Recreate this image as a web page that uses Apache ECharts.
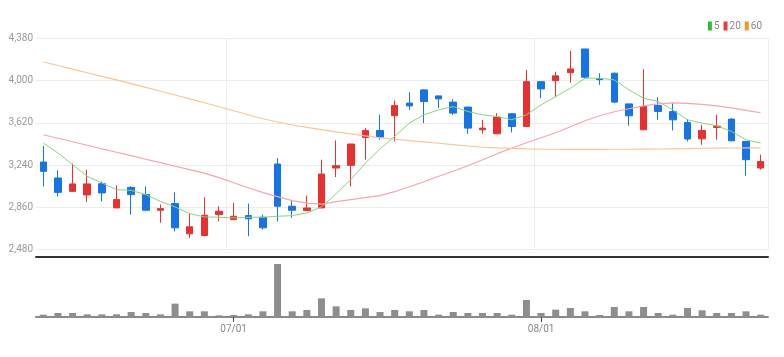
<!DOCTYPE html>
<html>
<head>
<meta charset="utf-8">
<script src="https://cdn.jsdelivr.net/npm/echarts@6/dist/echarts.min.js"></script>
<style>
html,body{margin:0;padding:0;background:#fff;}
#chart{width:784px;height:357px;}
</style>
</head>
<body>
<div id="chart"></div>
<script>
var dates = ['06/12','06/13','06/14','06/17','06/18','06/19','06/20','06/21','06/24','06/25','06/26','06/27','06/28',
'07/01','07/02','07/03','07/04','07/05','07/08','07/09','07/10','07/11','07/12','07/15','07/16','07/17','07/18','07/19','07/22','07/23','07/24','07/25','07/26','07/29',
'08/01','08/02','08/05','08/06','08/07','08/08','08/09','08/12','08/13','08/14','08/16','08/19','08/20','08/21','08/22','08/23'];
var tickLabels = ['07/01','08/01'];
var opens  = [3267,3123,3003,2971,3072,2854,3039,2974,2833,2893,2621,2606,2794,2749,2785,2770,3249,2869,2830,2854,3213,3237,3488,3551,3685,3797,3916,3862,3806,3761,3557,3521,3701,3587,3990,3999,4071,4284,4015,4066,3790,3557,3775,3721,3622,3476,3578,3653,3452,3213];
var closes = [3183,2994,3070,3070,2989,2929,2974,2833,2848,2675,2684,2788,2824,2779,2756,2675,2869,2833,2854,3159,3234,3429,3551,3491,3775,3772,3811,3835,3707,3572,3572,3671,3587,3990,3925,4042,4104,4030,4008,3806,3683,3766,3721,3647,3474,3551,3590,3458,3288,3272];
var lows   = [3048,2958,3003,2908,2913,2854,2794,2833,2720,2644,2585,2599,2734,2749,2599,2660,2734,2764,2824,2854,3132,3048,3288,3467,3452,3736,3617,3752,3692,3521,3521,3521,3533,3587,3841,3850,3981,4021,3961,3797,3593,3557,3647,3551,3452,3422,3467,3452,3144,3198];
var highs  = [3413,3192,3252,3198,3093,3057,3048,3048,2884,2994,2800,2949,2869,2899,2893,2794,3303,2920,2965,3288,3461,3429,3572,3692,3820,3895,3922,3862,3832,3761,3647,3707,3707,4095,3990,4080,4266,4284,4066,4071,3790,4102,3850,3797,3653,3602,3692,3662,3452,3333];
var ma5  = [3438,3348,3243,3138,3079,3018,3012,2974,2913,2863,2803,2773,2770,2764,2770,2770,2779,2785,2809,2863,2983,3108,3258,3385,3497,3617,3692,3736,3766,3721,3692,3676,3647,3692,3781,3856,3931,4021,4021,4006,3916,3841,3811,3736,3647,3617,3593,3542,3467,3438];
var ma20 = [3512,3481,3449,3418,3386,3355,3324,3292,3261,3229,3198,3167,3126,3081,3036,2992,2956,2920,2898,2888,2911,2929,2947,2965,3000,3045,3090,3139,3184,3234,3288,3342,3391,3440,3485,3530,3584,3638,3683,3719,3746,3772,3790,3799,3795,3786,3772,3754,3732,3710];
var ma60 = [4167,4135,4102,4070,4038,4006,3972,3938,3904,3870,3835,3800,3764,3728,3692,3656,3627,3600,3578,3558,3539,3520,3502,3485,3472,3460,3449,3436,3423,3411,3400,3394,3389,3385,3382,3382,3381,3381,3381,3382,3382,3383,3384,3386,3388,3391,3392,3393,3394,3395];
var volumes = [7,12,12,8,8,8,15,12,8,40,17,17,5,6,8,17,159,17,21,56,32,21,26,15,21,17,21,7,15,12,12,12,7,51,12,22,27,17,6,30,17,30,12,7,27,20,12,12,17,7];
var priceTicks = [2480, 2860, 3240, 3620, 4000, 4380];

var candleData = opens.map(function(o, i){ return [o, closes[i], lows[i], highs[i]]; });
function isTick(idx, val){ return tickLabels.indexOf(val) >= 0; }
function fmt(v){ return String(v).replace(/\B(?=(\d{3})+(?!\d))/g, ','); }
var FONT = "'Liberation Sans Narrow', 'Roboto', sans-serif";

var chart = echarts.init(document.getElementById('chart'), null, {renderer:'canvas'});
chart.setOption({
  animation: false,
  backgroundColor: '#fff',
  legend: {
    right: 17, top: 16, itemWidth: 4, itemHeight: 9, itemGap: 4,
    textStyle: {color: '#888', fontSize: 10, fontFamily: FONT, padding: [0,0,0,-3]},
    icon: 'rect',
    data: [
      {name: '5', itemStyle: {color: '#2ebd2e'}},
      {name: '20', itemStyle: {color: '#ee3b3b'}},
      {name: '60', itemStyle: {color: '#f7931e'}}
    ]
  },
  grid: [
    {left: 36, right: 16, top: 38.3, bottom: 107.5},
    {left: 36, right: 16, top: 262, bottom: 40}
  ],
  xAxis: [
    {type: 'category', gridIndex: 0, data: dates, boundaryGap: true, offset: 7,
      axisLine: {show: true, lineStyle: {color: '#333', width: 2}},
      axisTick: {show: false}, axisLabel: {show: false},
      splitLine: {show: true, interval: isTick, lineStyle: {color: '#ececec', width: 1}}},
    {type: 'category', gridIndex: 1, data: dates, boundaryGap: true,
      axisLine: {show: true, lineStyle: {color: '#8a8a8a', width: 2}},
      axisTick: {show: true, interval: isTick, alignWithLabel: true, length: 5, lineStyle: {color: '#444'}},
      axisLabel: {show: true, interval: isTick, color: '#888', fontSize: 10, fontFamily: FONT, margin: 7},
      splitLine: {show: false}}
  ],
  yAxis: [
    {type: 'value', gridIndex: 0, min: priceTicks[0], max: priceTicks[priceTicks.length-1], interval: 380,
      axisLine: {show: false}, axisTick: {show: false},
      axisLabel: {color: '#999', fontSize: 10, fontFamily: FONT, margin: 3, formatter: fmt},
      splitLine: {show: true, lineStyle: {color: '#ececec', width: 1}}},
    {type: 'value', gridIndex: 1, min: 0, max: 165, show: false, splitLine: {show: false}}
  ],
  series: [
    {type: 'candlestick', xAxisIndex: 0, yAxisIndex: 0, data: candleData, barWidth: 7,
      itemStyle: {color: '#e8312f', color0: '#1574e6', borderColor: '#e8312f', borderColor0: '#1574e6', borderWidth: 1}},
    {name: '5', type: 'line', xAxisIndex: 0, yAxisIndex: 0, data: ma5, symbol: 'none', smooth: false,
      lineStyle: {color: '#86d67a', width: 1}, itemStyle: {color: '#86d67a'}, z: 3},
    {name: '20', type: 'line', xAxisIndex: 0, yAxisIndex: 0, data: ma20, symbol: 'none', smooth: false,
      lineStyle: {color: '#f4a6ad', width: 1.2}, itemStyle: {color: '#f4a6ad'}, z: 3},
    {name: '60', type: 'line', xAxisIndex: 0, yAxisIndex: 0, data: ma60, symbol: 'none', smooth: false,
      lineStyle: {color: '#f8c597', width: 1.2}, itemStyle: {color: '#f8c597'}, z: 3},
    {type: 'bar', xAxisIndex: 1, yAxisIndex: 1, data: volumes, barWidth: 7,
      itemStyle: {color: '#8e8e8e'}}
  ]
});
</script>
</body>
</html>
